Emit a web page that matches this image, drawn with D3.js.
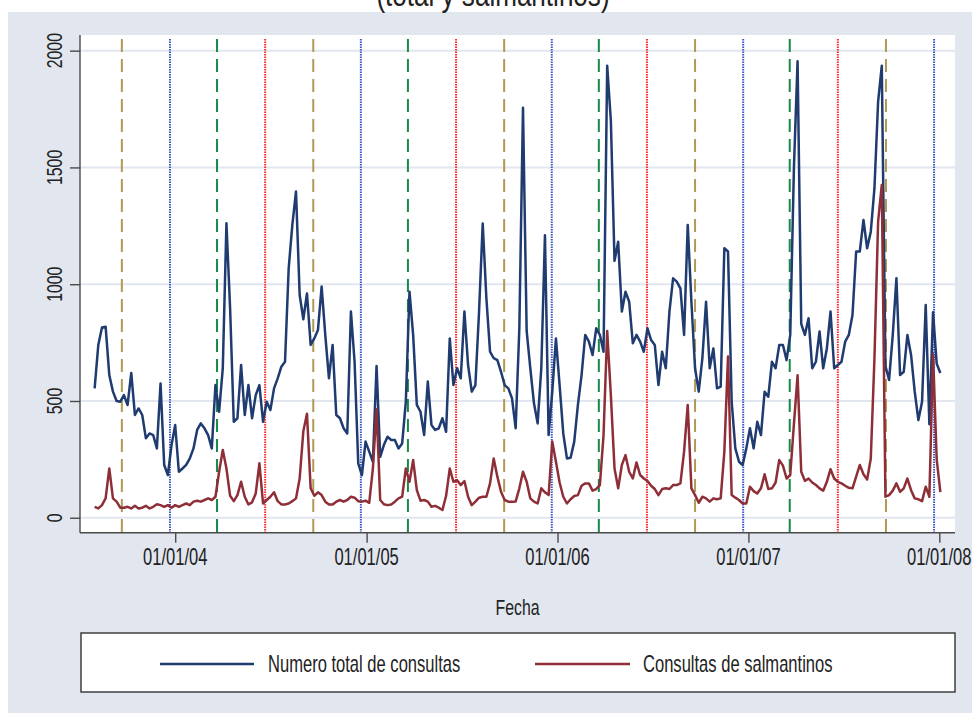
<!DOCTYPE html>
<html>
<head>
<meta charset="utf-8">
<script src="https://cdn.jsdelivr.net/npm/d3@7"></script>
<style>
  html, body { margin: 0; padding: 0; background: #ffffff; }
  svg { display: block; }
  text { font-family: "Liberation Sans", Arial, sans-serif; fill: #222; }
</style>
</head>
<body>
<div id="chart"></div>
<script>
// weekly series, first week starting 31 Jul 2003
const firstWeek = new Date(2003, 6, 31);

const totalConsultas = [
  554, 740, 815, 818, 611, 540, 500, 497, 525, 483, 620, 440, 468, 440, 340, 361, 354, 297, 575, 226,
  183, 311, 397, 197, 211, 226, 254, 297, 376, 404, 383, 354, 297, 568, 454, 640, 1261, 897, 411, 426,
  654, 440, 568, 426, 525, 568, 411, 497, 461, 554, 597, 647, 668, 1068, 1254, 1397, 954, 850, 960, 740,
  768, 804, 990, 782, 597, 740, 440, 426, 383, 361, 883, 668, 233, 183, 326, 283, 240, 650, 261, 311,
  347, 333, 333, 297, 318, 497, 968, 782, 483, 454, 354, 583, 397, 376, 383, 426, 368, 768, 568, 640,
  597, 883, 654, 540, 568, 883, 1260, 940, 711, 683, 675, 625, 568, 554, 511, 383, 811, 1755, 800, 640,
  490, 404, 640, 1210, 354, 540, 768, 568, 361, 254, 257, 326, 483, 611, 783, 754, 697, 811, 783, 711,
  1935, 1700, 1100, 1182, 883, 968, 925, 747, 783, 754, 711, 811, 761, 740, 568, 711, 640, 883, 1025, 1011,
  982, 783, 1254, 925, 640, 540, 683, 925, 640, 725, 554, 561, 1154, 1140, 497, 297, 240, 226, 297, 383,
  297, 411, 354, 540, 518, 668, 640, 740, 740, 675, 783, 1497, 1955, 830, 783, 854, 640, 668, 797, 640,
  725, 883, 640, 654, 668, 754, 783, 868, 1140, 1140, 1275, 1154, 1225, 1411, 1782, 1935, 650, 590, 783, 1025,
  611, 625, 783, 697, 540, 418, 497, 911, 400, 880, 660, 620
];

const consultasSalmantinos = [
  47, 40, 54, 83, 211, 83, 69, 43, 43, 47, 40, 51, 40, 43, 51, 40, 47, 58, 54, 47,
  54, 43, 54, 47, 54, 61, 54, 69, 73, 69, 76, 83, 76, 90, 197, 290, 211, 94, 71, 97,
  154, 90, 57, 66, 104, 233, 61, 76, 90, 109, 71, 57, 57, 61, 71, 83, 168, 370, 445, 126,
  94, 109, 97, 69, 57, 57, 69, 76, 69, 76, 90, 86, 71, 69, 73, 64, 211, 465, 76, 58,
  54, 57, 69, 83, 90, 211, 154, 247, 118, 73, 76, 69, 47, 51, 43, 33, 94, 211, 154, 161,
  140, 157, 90, 54, 69, 86, 90, 90, 147, 254, 176, 111, 76, 69, 69, 70, 126, 197, 154, 83,
  69, 61, 126, 109, 97, 326, 240, 151, 90, 61, 79, 93, 97, 137, 147, 147, 116, 123, 140, 354,
  800, 525, 211, 126, 226, 268, 197, 168, 237, 183, 168, 157, 137, 123, 97, 123, 126, 123, 140, 140,
  147, 283, 483, 126, 97, 64, 90, 83, 69, 83, 79, 83, 283, 690, 97, 86, 76, 61, 61, 133,
  114, 104, 126, 186, 123, 126, 151, 247, 223, 168, 183, 400, 610, 197, 158, 168, 151, 140, 126, 116,
  154, 208, 168, 154, 147, 137, 128, 126, 176, 226, 186, 164, 254, 683, 1268, 1425, 90, 97, 116, 147,
  111, 126, 168, 118, 83, 79, 71, 133, 90, 700, 250, 110
];

// season markers
const autumnDates = ["2003-09-21", "2004-09-21", "2005-09-21", "2006-09-21", "2007-09-21"];
const winterDates = ["2003-12-22", "2004-12-21", "2005-12-21", "2006-12-22", "2007-12-22"];
const springDates = ["2004-03-21", "2005-03-21", "2006-03-21", "2007-03-21"];
const summerDates = ["2004-06-21", "2005-06-21", "2006-06-21", "2007-06-21"];

const xTickDates = ["2004-01-01", "2005-01-01", "2006-01-01", "2007-01-01", "2008-01-01"];
const xTickLabels = ["01/01/04", "01/01/05", "01/01/06", "01/01/07", "01/01/08"];
const yTicks = [0, 500, 1000, 1500, 2000];

const seriesNames = ["Numero total de consultas", "Consultas de salmantinos"];

const W = 972, H = 713;
const plot = { left: 80, right: 955, top: 35, bottom: 532.7 };
const SX = 0.72; // narrow text like the original

const parse = d3.timeParse("%Y-%m-%d");
const weekDate = i => d3.timeDay.offset(firstWeek, 7 * i);

const x = d3.scaleTime()
  .domain([new Date(2003, 6, 3), new Date(2008, 0, 31)])
  .range([plot.left, plot.right]);

const y = d3.scaleLinear()
  .domain([-64, 2067])
  .range([plot.bottom, plot.top]);

const svg = d3.select("#chart").append("svg")
  .attr("width", W)
  .attr("height", H);

// graph region
svg.append("rect")
  .attr("x", 8).attr("y", 12)
  .attr("width", W - 8).attr("height", H - 12)
  .attr("fill", "#e1e6ef");

// title (its upper part lies above the picture, as in the original)
svg.append("text")
  .attr("transform", "translate(493,6) scale(0.79,1)")
  .attr("text-anchor", "middle")
  .style("font-size", "33px")
  .text("(total y salmantinos)");

// plot region
svg.append("rect")
  .attr("x", plot.left).attr("y", plot.top)
  .attr("width", plot.right - plot.left).attr("height", plot.bottom - plot.top)
  .attr("fill", "#ffffff");

// grid
svg.append("g")
  .selectAll("line")
  .data(yTicks)
  .enter().append("line")
  .attr("x1", plot.left).attr("x2", plot.right)
  .attr("y1", d => y(d)).attr("y2", d => y(d))
  .attr("stroke", "#e2e6ef")
  .attr("stroke-width", 2);

// season lines
const seasons = [
  { dates: autumnDates, color: "#ae9a54", dash: "13,7" },
  { dates: winterDates, color: "#3b58c4", dash: "1.5,1" },
  { dates: springDates, color: "#17894a", dash: "13,7" },
  { dates: summerDates, color: "#ff2b2b", dash: "1.5,1" }
];
seasons.forEach(s => {
  svg.append("g")
    .selectAll("line")
    .data(s.dates.map(parse))
    .enter().append("line")
    .attr("x1", d => x(d)).attr("x2", d => x(d))
    .attr("y1", plot.top + 4).attr("y2", plot.bottom)
    .attr("stroke", s.color)
    .attr("stroke-width", 2)
    .attr("stroke-dasharray", s.dash);
});

// lines
const line = d3.line()
  .x((d, i) => x(weekDate(i)))
  .y(d => y(d));

svg.append("path")
  .datum(totalConsultas)
  .attr("fill", "none")
  .attr("stroke", "#1f3b70")
  .attr("stroke-width", 2.5)
  .attr("stroke-linejoin", "round")
  .attr("d", line);

svg.append("path")
  .datum(consultasSalmantinos)
  .attr("fill", "none")
  .attr("stroke", "#8e2f38")
  .attr("stroke-width", 2.5)
  .attr("stroke-linejoin", "round")
  .attr("d", line);

// axes
const yAxis = svg.append("g")
  .attr("transform", `translate(${plot.left},0)`)
  .call(d3.axisLeft(y).tickValues(yTicks).tickSize(10).tickFormat(""));
yAxis.select(".domain").attr("d", `M0,${plot.top}V${plot.bottom}`);

const xAxis = svg.append("g")
  .attr("transform", `translate(0,${plot.bottom})`)
  .call(d3.axisBottom(x).tickValues(xTickDates.map(parse)).tickSize(10).tickFormat(""));
xAxis.select(".domain").attr("d", `M${plot.left},0H${plot.right}`);

svg.selectAll(".domain, .tick line")
  .attr("stroke", "#4a4a4a")
  .attr("stroke-width", 1.4);

svg.append("g")
  .selectAll("text")
  .data(yTicks)
  .enter().append("text")
  .attr("transform", d => `translate(62,${y(d)}) rotate(-90) scale(${SX},1)`)
  .attr("text-anchor", "middle")
  .style("font-size", "22px")
  .text(d => d);

svg.append("g")
  .selectAll("text")
  .data(xTickDates)
  .enter().append("text")
  .attr("transform", d => `translate(${x(parse(d))},565) scale(${SX},1)`)
  .attr("text-anchor", "middle")
  .style("font-size", "23px")
  .text((d, i) => xTickLabels[i]);

svg.append("text")
  .attr("transform", `translate(${(plot.left + plot.right) / 2},615) scale(${SX},1)`)
  .attr("text-anchor", "middle")
  .style("font-size", "22px")
  .text("Fecha");

// legend
const legend = svg.append("g");
legend.append("rect")
  .attr("x", 81).attr("y", 633)
  .attr("width", 874).attr("height", 59)
  .attr("fill", "#ffffff")
  .attr("stroke", "#333")
  .attr("stroke-width", 1.4);

const legendItems = [
  { name: seriesNames[0], color: "#1f3b70", x1: 160, x2: 254, tx: 268 },
  { name: seriesNames[1], color: "#8e2f38", x1: 535, x2: 630, tx: 643 }
];
legendItems.forEach(it => {
  legend.append("line")
    .attr("x1", it.x1).attr("x2", it.x2)
    .attr("y1", 664).attr("y2", 664)
    .attr("stroke", it.color)
    .attr("stroke-width", 2.6);
  legend.append("text")
    .attr("transform", `translate(${it.tx},672) scale(${SX},1)`)
    .style("font-size", "23px")
    .text(it.name);
});
</script>
</body>
</html>
